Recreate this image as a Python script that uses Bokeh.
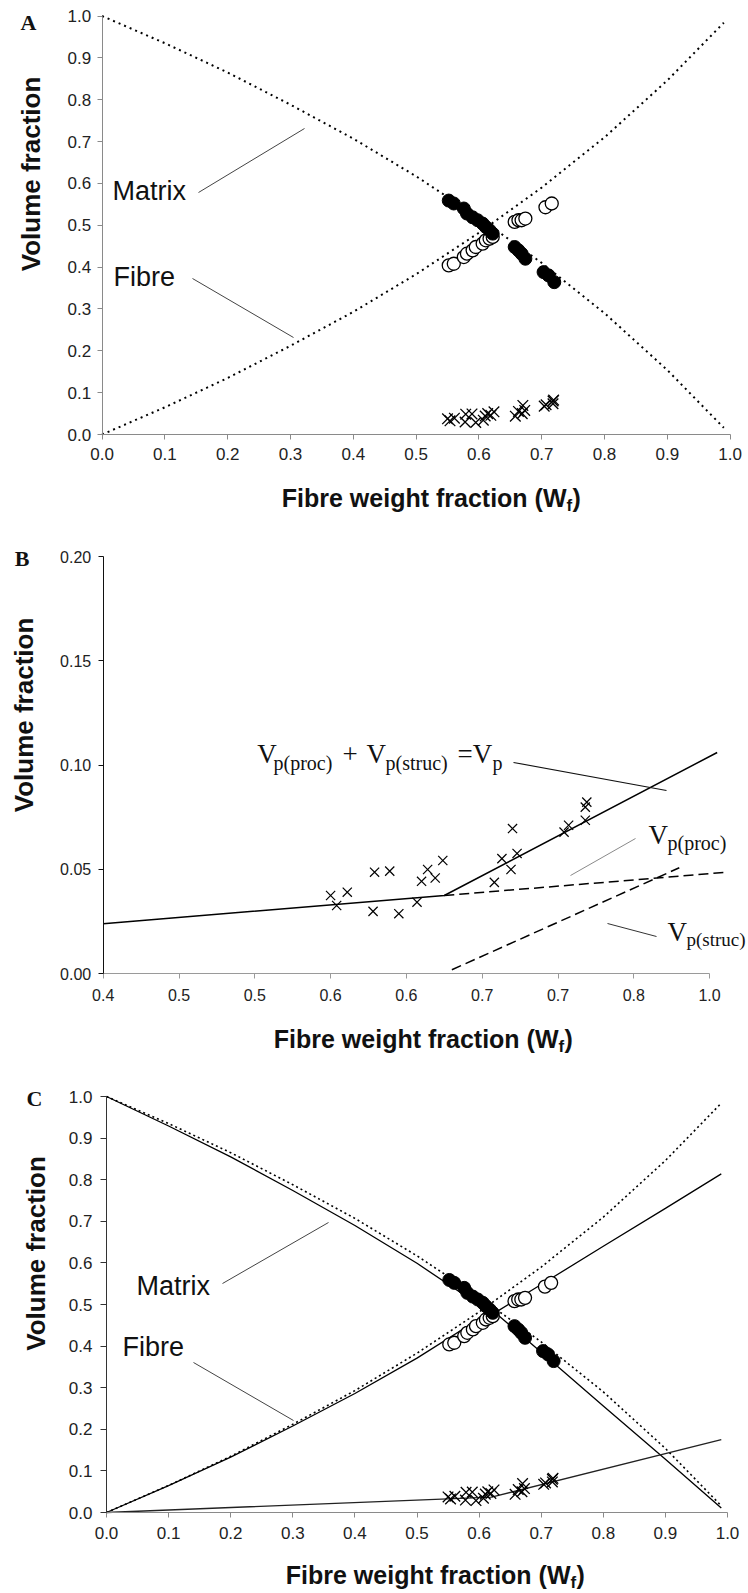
from math import pi
from bokeh.plotting import figure
from bokeh.models import Label, FixedTicker, PrintfTickFormatter, Range1d
from bokeh.layouts import column
from bokeh.embed import file_html
from bokeh.resources import INLINE

# ---------------- data ----------------
# theoretical (dotted) curves, panels A and C
model_wf = [0.0, 0.1, 0.2, 0.3, 0.4, 0.5, 0.6, 0.7, 0.8, 0.9, 0.99]
model_fibre = [0.0, 0.065, 0.135, 0.212, 0.293, 0.383, 0.482, 0.590, 0.710, 0.846, 0.984]
model_matrix = [1.0, 0.935, 0.865, 0.788, 0.707, 0.617, 0.518, 0.410, 0.290, 0.154, 0.016]

# fitted (solid) curves, panel C
fit_wf = [0.0, 0.1, 0.2, 0.3, 0.4, 0.5, 0.6, 0.62, 0.7, 0.8, 0.9, 0.99]
fit_fibre = [0.0, 0.0646, 0.133, 0.208, 0.286, 0.371, 0.465, 0.475, 0.548, 0.640, 0.731, 0.814]
fit_matrix = [1.0, 0.929, 0.855, 0.774, 0.690, 0.599, 0.499, 0.488, 0.385, 0.256, 0.128, 0.011]
fit_void_wf = [0.0, 0.62, 0.99]
fit_void = [0.0, 0.037, 0.175]

# measured matrix volume fraction (filled circles)
matrix_wf = [0.552, 0.560, 0.576, 0.581, 0.590, 0.598, 0.606, 0.611, 0.617, 0.622,
             0.657, 0.663, 0.668, 0.674, 0.703, 0.711, 0.720]
matrix_vf = [0.559, 0.552, 0.540, 0.528, 0.519, 0.512, 0.504, 0.496, 0.488, 0.480,
             0.448, 0.440, 0.432, 0.420, 0.388, 0.380, 0.364]
# measured fibre volume fraction (open circles)
fibre_wf = [0.552, 0.560, 0.576, 0.581, 0.590, 0.595, 0.606, 0.611, 0.617, 0.622,
            0.657, 0.663, 0.668, 0.674, 0.706, 0.716]
fibre_vf = [0.404, 0.408, 0.424, 0.432, 0.440, 0.448, 0.456, 0.464, 0.468, 0.472,
            0.508, 0.512, 0.512, 0.516, 0.543, 0.552]
# measured porosity (crosses)
void_wf = [0.550, 0.554, 0.561, 0.578, 0.579, 0.589, 0.595, 0.607, 0.610, 0.619, 0.614,
           0.624, 0.658, 0.669, 0.663, 0.673, 0.670, 0.704, 0.707, 0.718, 0.718, 0.719]
void_vf = [0.0374, 0.0326, 0.0390, 0.0298, 0.0486, 0.0491, 0.0287, 0.0342, 0.0442, 0.0458, 0.0499,
           0.0542, 0.0437, 0.0499, 0.0551, 0.0576, 0.0695, 0.0678, 0.0711, 0.0735, 0.0798, 0.0822]

# panel B model lines
b_total_wf = [0.4, 0.625, 0.805]
b_total_vp = [0.0239, 0.0374, 0.106]
b_proc_wf = [0.625, 0.812]
b_proc_vp = [0.0374, 0.0486]
b_struc_wf = [0.630, 0.780]
b_struc_vp = [0.0018, 0.0507]

# ticks
ac_ticks = [0.0, 0.1, 0.2, 0.3, 0.4, 0.5, 0.6, 0.7, 0.8, 0.9, 1.0]
b_xticks = [0.40, 0.45, 0.50, 0.55, 0.60, 0.65, 0.70, 0.75, 0.80]
b_xtick_labels = ["0.4", "0.5", "0.5", "0.6", "0.6", "0.7", "0.7", "0.8", "1.0"]
b_yticks = [0.0, 0.05, 0.10, 0.15, 0.20]

# ---------------- helpers ----------------
W = 748
SANS = "Liberation Sans"
SERIF = "Liberation Serif"


class Panel:
    """Figure whose frame fills the canvas; axes are pinned inside it."""

    def __init__(self, top, height, X0, Sx, x0val, Y0, Sy):
        self.top, self.height = top, height
        self.X0, self.Sx, self.x0val, self.Y0, self.Sy = X0, Sx, x0val, Y0, Sy
        p = figure(width=W, height=height,
                   x_range=Range1d(self.fx(0), self.fx(W)),
                   y_range=Range1d(self.fy(top + height), self.fy(top)),
                   output_backend="svg", toolbar_location=None,
                   min_border_left=0, min_border_right=0,
                   min_border_top=0, min_border_bottom=0)
        p.xgrid.visible = False
        p.ygrid.visible = False
        p.outline_line_color = None
        p.background_fill_color = "white"
        p.border_fill_color = "white"
        for ax in (p.xaxis[0], p.yaxis[0]):
            ax.major_tick_in = 0
            ax.major_tick_out = 5
            ax.minor_tick_line_color = None
            ax.major_label_text_color = "#222222"
        self.p = p

    def fx(self, X):
        return self.x0val + (X - self.X0) / self.Sx

    def fy(self, Y):
        return (self.Y0 - Y) / self.Sy

    def lab(self, X, Y, text, size, font=SANS, style="normal", align="left",
            baseline="alphabetic", angle=0.0, color="#111111"):
        if baseline == "alphabetic":
            Y = Y - 0.3 * size  # renderer places alphabetic text slightly low
        self.p.add_layout(Label(x=self.fx(X), y=self.fy(Y), text=text, text_font=font,
                                text_font_size=f"{size}px", text_font_style=style,
                                text_align=align, text_baseline=baseline, angle=angle,
                                text_color=color))

    def lead(self, X1, Y1, X2, Y2, color="#444444", width=1.0):
        self.p.line([self.fx(X1), self.fx(X2)], [self.fy(Y1), self.fy(Y2)],
                    line_color=color, line_width=width)

    def xtitle(self, x_end, base):
        self.lab(x_end, base, "Fibre weight fraction (W", 25, style="bold", align="right")
        self.lab(x_end, base + 5, "f", 17, style="bold")
        self.lab(x_end + 6, base, ")", 25, style="bold")

    def ytitle(self, X, Y):
        self.lab(X, Y, "Volume fraction", 26, style="bold", align="center",
                 baseline="middle", angle=pi / 2)


def ac_axes(p, xcolor, ycolor):
    for ax in (p.xaxis[0], p.yaxis[0]):
        ax.ticker = FixedTicker(ticks=ac_ticks)
        ax.formatter = PrintfTickFormatter(format="%.1f")
        ax.major_label_text_font = SANS
        ax.major_label_text_font_size = "17px"
        ax.fixed_location = 0
        ax.bounds = (0, 1)
    p.xaxis.axis_line_color = xcolor
    p.xaxis.major_tick_line_color = xcolor
    p.yaxis.axis_line_color = ycolor
    p.yaxis.major_tick_line_color = ycolor
    p.xaxis.major_label_standoff = 8
    p.yaxis.major_label_standoff = 6


# ---------------- panel A ----------------
A = Panel(top=0, height=540, X0=101.6, Sx=628.0, x0val=0.0, Y0=434.0, Sy=418.5)
pa = A.p
ac_axes(pa, "#8a8a8a", "#8a8a8a")

pa.line(model_wf, model_fibre, line_color="black", line_width=2, line_dash="2 4")
pa.line(model_wf, model_matrix, line_color="black", line_width=2, line_dash="2 4")
A.lead(198, 192, 304, 128)
A.lead(192, 278, 293, 337)
pa.scatter(fibre_wf, fibre_vf, marker="circle", size=13, fill_color="white",
           line_color="black", line_width=1.3)
pa.scatter(matrix_wf, matrix_vf, marker="circle", size=13, fill_color="black",
           line_color="black")
pa.scatter(void_wf, void_vf, marker="x", size=15, line_color="black", line_width=1.3)

A.lab(28, 22, "A", 22, font=SERIF, style="bold", align="center", baseline="middle")
A.ytitle(30, 173.5)
A.lab(112, 199, "Matrix", 27)
A.lab(113, 285, "Fibre", 27)
A.xtitle(566, 505)

# ---------------- panel B ----------------
B = Panel(top=540, height=540, X0=102.7, Sx=1516.0, x0val=0.4, Y0=973.0, Sy=2085.0)
pb = B.p
pb.xaxis.ticker = FixedTicker(ticks=b_xticks)
pb.xaxis.major_label_overrides = dict(zip(b_xticks, b_xtick_labels))
pb.xaxis.bounds = (0.4, 0.8)
pb.xaxis.fixed_location = 0
pb.yaxis.ticker = FixedTicker(ticks=b_yticks)
pb.yaxis.formatter = PrintfTickFormatter(format="%.2f")
pb.yaxis.bounds = (0, 0.2)
pb.yaxis.fixed_location = 0.4
for ax in (pb.xaxis[0], pb.yaxis[0]):
    ax.major_label_text_font = SANS
    ax.major_label_text_font_size = "16px"
pb.xaxis.axis_line_color = "#9a9a9a"
pb.xaxis.major_tick_line_color = "#9a9a9a"
pb.yaxis.axis_line_color = "#111111"
pb.yaxis.major_tick_line_color = "#111111"
pb.xaxis.major_label_standoff = 10
pb.yaxis.major_label_standoff = 7

pb.line(b_total_wf, b_total_vp, line_color="black", line_width=1.5)
pb.line(b_proc_wf, b_proc_vp, line_color="black", line_width=1.5, line_dash="10 5")
pb.line(b_struc_wf, b_struc_vp, line_color="black", line_width=1.5, line_dash="10 5")
B.lead(513, 762, 666, 790, color="#111111", width=1.2)
B.lead(635, 838, 570, 875, color="#8a8a8a")
B.lead(607, 923, 656, 936, color="#333333")
pb.scatter(void_wf, void_vf, marker="x", size=13, line_color="black", line_width=1.2)

B.lab(21.7, 557.5, "B", 22, font=SERIF, style="bold", align="center", baseline="middle")
B.ytitle(23.3, 714.5)
# V_p(proc) + V_p(struc) = V_p
B.lab(256.7, 762, "V", 27, font=SERIF)
B.lab(273, 768, "p(proc)", 20, font=SERIF)
B.lab(342, 762, "+", 27, font=SERIF)
B.lab(366, 762, "V", 27, font=SERIF)
B.lab(385, 768, "p(struc)", 20, font=SERIF)
B.lab(457, 762, "=V", 27, font=SERIF)
B.lab(492, 768, "p", 20, font=SERIF)
# V_p(proc)
B.lab(648, 843, "V", 27, font=SERIF)
B.lab(667, 848, "p(proc)", 20, font=SERIF)
# V_p(struc)
B.lab(667, 940, "V", 27, font=SERIF)
B.lab(686, 945, "p(struc)", 19, font=SERIF)
B.xtitle(558, 1046)

# ---------------- panel C ----------------
C = Panel(top=1080, height=512, X0=106.0, Sx=621.0, x0val=0.0, Y0=1512.0, Sy=416.0)
pc = C.p
ac_axes(pc, "#8a8a8a", "#333333")
pc.yaxis.major_tick_out = 6
pc.yaxis.major_label_standoff = 8
pc.xaxis.major_label_standoff = 9

pc.line(model_wf, model_fibre, line_color="black", line_width=1.6, line_dash="2 3")
pc.line(model_wf, model_matrix, line_color="black", line_width=1.6, line_dash="2 3")
pc.line(fit_wf, fit_fibre, line_color="black", line_width=1.3)
pc.line(fit_wf, fit_matrix, line_color="black", line_width=1.3)
pc.line(fit_void_wf, fit_void, line_color="#222222", line_width=1.3)
C.lead(222, 1283, 328, 1222)
C.lead(193, 1362, 293, 1420)
pc.scatter(fibre_wf, fibre_vf, marker="circle", size=13, fill_color="white",
           line_color="black", line_width=1.3)
pc.scatter(matrix_wf, matrix_vf, marker="circle", size=13, fill_color="black",
           line_color="black")
pc.scatter(void_wf, void_vf, marker="x", size=15, line_color="black", line_width=1.3)

C.lab(34, 1098, "C", 22, font=SERIF, style="bold", align="center", baseline="middle")
C.ytitle(35.8, 1253)
C.lab(136, 1294, "Matrix", 27)
C.lab(122, 1355, "Fibre", 27)
C.xtitle(570, 1582)

layout = column(pa, pb, pc, spacing=0)
open("out.html", "w").write(file_html(layout, INLINE))
